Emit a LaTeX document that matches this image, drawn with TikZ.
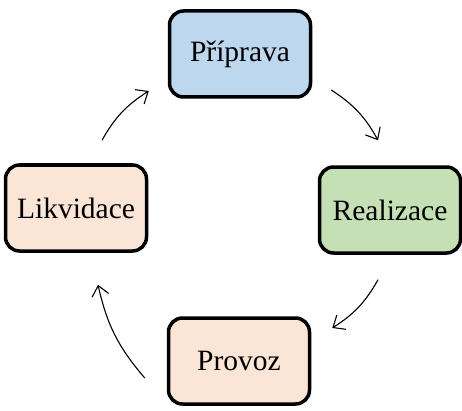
\documentclass[tikz,border=0pt]{standalone}
\usepackage{fontspec}
\setmainfont{Liberation Serif}
\usetikzlibrary{arrows.meta}

\definecolor{modra}{HTML}{BDD7EE}
\definecolor{zelena}{HTML}{C5E0B4}
\definecolor{lososova}{HTML}{FBE5D6}

\begin{document}
\begin{tikzpicture}
        [x=1pt,y=1pt,
         faze/.style={draw,line width=3.5pt,rounded corners=14pt,minimum width=141pt,minimum height=86pt,font=\fontsize{29.5}{34}\selectfont},
         krok/.style={line width=1.1pt,-{Straight Barb[length=10pt,width=17pt]}}]
        \useasboundingbox (0,0) rectangle (462,410);
        \node[faze,fill=modra] (pri) at (240,356) {Příprava};
        \node[faze,fill=zelena] (rea) at (390,200) {Realizace};
        \node[faze,fill=lososova] (pro) at (239,49) {Provoz};
        \node[faze,fill=lososova] (lik) at (76,202) {Likvidace};

        % the cycle
        \draw[krok] ([shift={(26,23)}]lik.north) to[bend left=14] ([shift={(-19,-37)}]pri.west);
        \draw[krok] ([shift={(19,-36)}]pri.east) to[bend left=14] ([shift={(-12,25)}]rea.north);
        \draw[krok] ([shift={(-12,-25)}]rea.south) to[bend left=14] ([shift={(21,33)}]pro.east);
        \draw[krok] ([shift={(-22,-17)}]pro.west) to[bend left=14] ([shift={(22,-32)}]lik.south);
    \end{tikzpicture}
\end{document}
